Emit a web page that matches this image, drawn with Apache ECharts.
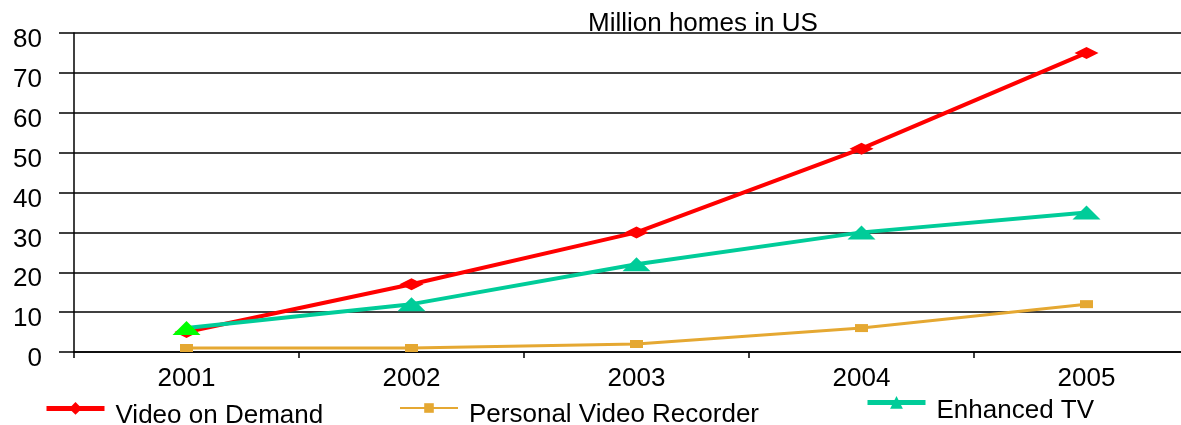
<!DOCTYPE html>
<html>
<head>
<meta charset="utf-8">
<script src="https://cdn.jsdelivr.net/npm/echarts@6/dist/echarts.min.js"></script>
<style>
  html, body { margin: 0; padding: 0; background: #fff; }
  #chart { width: 1181px; height: 425px; }
</style>
</head>
<body>
<div id="chart"></div>
<script>
// Homes (millions) in the US by year
const years = ['2001', '2002', '2003', '2004', '2005'];
const videoOnDemand = [5, 17, 30, 51, 75];
const personalVideoRecorder = [1, 1, 2, 6, 12];
const enhancedTV = [6, 12, 22, 30, 35];
const yTicks = { min: 0, max: 80, step: 10 };

const FONT = '"Liberation Sans", Arial, sans-serif';
const FS = 26;
const RED = '#FF0000';
const GOLD = '#E5A832';
const TEAL = '#00CC99';

const chart = echarts.init(document.getElementById('chart'), null, { renderer: 'canvas' });

// one legend block per series; the text sits a little below the icon line
function legendAt(name, left, top, lineWidth, iconH, drop) {
  return {
    data: [name], left: left, top: top, orient: 'horizontal',
    itemWidth: 58, itemHeight: iconH, itemGap: 0, padding: 0,
    lineStyle: { width: lineWidth },
    formatter: '{t|{name}}',
    textStyle: {
      fontFamily: FONT, fontSize: FS, color: '#000',
      rich: { t: { fontFamily: FONT, fontSize: FS, color: '#000', padding: [drop * 2, 0, 0, 6] } }
    },
    selectedMode: false
  };
}

chart.setOption({
  animation: false,
  backgroundColor: '#fff',
  title: {
    text: 'Million homes in US',
    left: 588, top: 11, padding: 0,
    textStyle: { fontFamily: FONT, fontSize: FS, fontWeight: 'normal', color: '#000' }
  },
  // plot spans 5 bands of ~225px; the last band runs past the right edge
  grid: { left: 74, width: 1125, top: 33, height: 319, containLabel: false, outerBoundsMode: 'none' },
  legend: [
    legendAt('Video on Demand', 44, 402, 5, 16, 7),
    legendAt('Personal Video Recorder', 399, 402, 2, 12, 7),
    legendAt('Enhanced TV', 865, 396, 5, 16, 8)
  ],
  xAxis: {
    type: 'category',
    data: years,
    boundaryGap: true,
    axisLine: { show: true, lineStyle: { color: '#000', width: 1.5 } },
    axisTick: { show: true, length: 6, lineStyle: { color: '#000', width: 1.5 } },
    axisLabel: { fontFamily: FONT, fontSize: FS, color: '#000', margin: 14 },
    splitLine: { show: false }
  },
  yAxis: {
    type: 'value',
    min: yTicks.min, max: yTicks.max, interval: yTicks.step,
    axisLine: { show: true, lineStyle: { color: '#000', width: 1.5 } },
    axisTick: { show: true, length: 15, lineStyle: { color: '#000', width: 1.5 } },
    axisLabel: {
      fontFamily: FONT, fontSize: FS, color: '#000', margin: 32,
      formatter: '{v|{value}}',
      rich: { v: { fontFamily: FONT, fontSize: FS, color: '#000', padding: [14, 0, 0, 0] } }
    },
    splitLine: { show: true, lineStyle: { color: '#000', width: 1.5 } }
  },
  series: [
    {
      name: 'Video on Demand', type: 'line', data: videoOnDemand,
      symbol: 'diamond', symbolSize: [24, 12],
      lineStyle: { color: RED, width: 4 },
      itemStyle: { color: RED }
    },
    {
      name: 'Personal Video Recorder', type: 'line', data: personalVideoRecorder,
      symbol: 'rect', symbolSize: [13, 8],
      lineStyle: { color: GOLD, width: 3 },
      itemStyle: { color: GOLD }
    },
    {
      name: 'Enhanced TV', type: 'line',
      data: enhancedTV.map((v, i) => i === 0 ? { value: v, itemStyle: { color: '#00FF00' } } : v),
      symbol: 'triangle', symbolSize: [28, 14],
      lineStyle: { color: TEAL, width: 4 },
      itemStyle: { color: TEAL }
    }
  ]
});
</script>
</body>
</html>
